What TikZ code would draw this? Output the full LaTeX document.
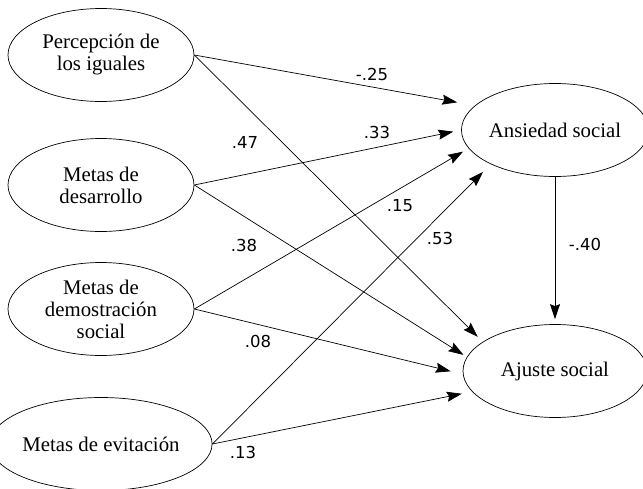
\documentclass[tikz,border=0pt]{standalone}
\usepackage{fontspec}
\setmainfont{Liberation Serif}
\newfontfamily\coeffont{DejaVu Sans}
\usetikzlibrary{arrows.meta,shapes.geometric}

\begin{document}
\begin{tikzpicture}
[x=1pt,y=-1pt,
var/.style={shape=ellipse,draw,line width=0.7pt,
  minimum width=186pt,minimum height=93pt,inner sep=0pt,
  align=center,font=\fontsize{20.8}{22}\selectfont},
dep/.style={var,minimum width=184pt},
path/.style={line width=0.7pt,-{Stealth[length=15pt,width=10pt,inset=2pt]}},
coef/.style={font=\coeffont\fontsize{16.5}{18}\selectfont,inner sep=0pt}]
\useasboundingbox (0,0) rectangle (643,488);

% predictors
\node (perc) [var] at (101,55) {Percepción de\\los iguales};
\node (desa) [var] at (101,185) {Metas de\\desarrollo};
\node (demo) [var] at (101,309) {Metas de\\demostración\\social};
\node (evit) [var] at (101,444) {Metas de evitación};

% outcomes
\node (ansi) [dep] at (555,130) {Ansiedad social};
\node (ajus) [dep] at (555,371) {Ajuste social};

\draw [path,shorten >=18pt] (perc.east) -- (ansi.163);
\draw [path,shorten >=8pt] (desa.east) -- (ansi.west);
\draw [path,shorten >=6.5pt] (demo.east) -- (ansi.192);
\draw [path,shorten >=11pt] (evit.east) -- (ansi.208);

\draw [path,shorten >=7pt] (perc.east) -- (ajus.158);
\draw [path,shorten >=4pt] (desa.east) -- (ajus.171.6);
\draw [path,shorten >=12.5pt] (demo.east) -- (ajus.182);
\draw [path,shorten >=10.5pt] (evit.east) -- (ajus.194.6);

\draw [path,shorten >=5pt] (ansi) -- (ajus);

% coefficients
\node (c1) [coef] at (372,74) {-.25};
\node (c2) [coef] at (377,132) {.33};
\node (c3) [coef] at (245,142) {.47};
\node (c4) [coef] at (400,206) {.15};
\node (c5) [coef] at (440,238) {.53};
\node (c6) [coef] at (244,245) {.38};
\node (c7) [coef] at (258,341) {.08};
\node (c8) [coef] at (243,452) {.13};
\node (c9) [coef] at (585,244) {-.40};
\end{tikzpicture}
\end{document}
